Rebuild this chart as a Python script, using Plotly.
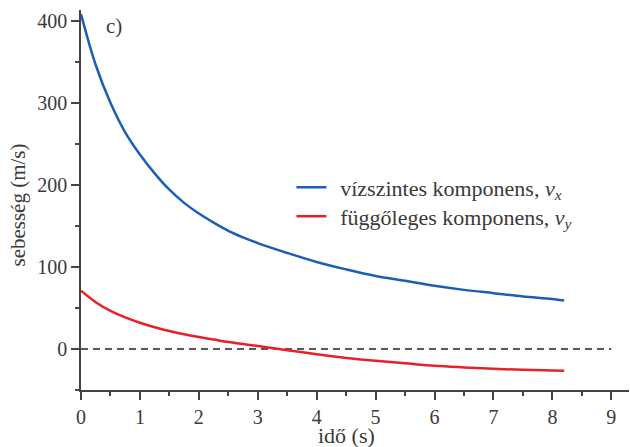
import plotly.graph_objects as go

# Time samples (s)
t = [0, 0.25, 0.5, 0.75, 1.0, 1.25, 1.5, 1.75, 2.0, 2.25, 2.5, 2.75, 3.0,
     3.5, 4.0, 4.5, 5.0, 5.5, 6.0, 6.5, 7.0, 7.5, 8.0, 8.2]

# Horizontal velocity component v_x (m/s)
vx = [408, 346, 300, 264, 237, 214, 194, 178, 165, 154, 144, 136, 129,
      117, 106, 97, 89, 83, 77, 72, 68, 64, 61, 59]

# Vertical velocity component v_y (m/s)
vy = [71, 57, 46.5, 38.5, 32, 26.5, 22, 18, 14.5, 11.5, 8.5, 6, 3.5,
      -1.5, -6.5, -11, -14.5, -17.5, -20.5, -22.5, -24.2, -25.4, -26.2, -26.5]

x_ticks = [0, 1, 2, 3, 4, 5, 6, 7, 8, 9]
y_ticks = [0, 100, 200, 300, 400]

FONT = "Liberation Serif"
TXT = "#3a3a3a"
AX = "#444444"
FS = 20
GAP = "&#8201;&#8201;"  # thin spaces between legend line and label

fig = go.Figure()

fig.add_trace(go.Scatter(
    x=t, y=vx, mode="lines",
    line=dict(color="#1b5fb5", width=2.5, shape="spline", smoothing=1),
    name=GAP + "vízszintes komponens, <i>v<sub>x</sub></i>", legend="legend",
))
fig.add_trace(go.Scatter(
    x=t, y=vy, mode="lines",
    line=dict(color="#e8202a", width=2.5, shape="spline", smoothing=1),
    name=GAP + "függőleges komponens, <i>v<sub>y</sub></i>", legend="legend2",
))

# zero reference line
fig.add_shape(type="line", x0=0, x1=9, y0=0, y1=0, xref="x", yref="y",
              line=dict(color="#222222", width=1.5, dash="7px,5px"), layer="below")

legend_style = dict(xanchor="left", yanchor="middle", bgcolor="rgba(0,0,0,0)",
                    itemwidth=30, font=dict(family=FONT, size=22, color=TXT))

fig.update_layout(
    width=630, height=447,
    margin=dict(l=81, r=1, t=10, b=57),
    paper_bgcolor="white", plot_bgcolor="white",
    font=dict(family=FONT, size=FS, color=TXT),
    showlegend=True,
    legend=dict(x=0.384, y=0.533, **legend_style),
    legend2=dict(x=0.384, y=0.457, **legend_style),
    xaxis=dict(range=[0, 9.3], tickvals=x_ticks, showgrid=False, zeroline=False,
               showline=True, linecolor=AX, linewidth=1.5,
               ticks="outside", ticklen=8, tickwidth=1.5, tickcolor=AX,
               minor=dict(dtick=0.5, tick0=0, ticks="outside", ticklen=4,
                          tickwidth=1.5, tickcolor=AX, showgrid=False),
               tickfont=dict(family=FONT, size=FS, color=TXT)),
    yaxis=dict(range=[-50, 413], tickvals=y_ticks, showgrid=False, zeroline=False,
               showline=True, linecolor=AX, linewidth=1.5,
               ticks="outside", ticklen=8, tickwidth=1.5, tickcolor=AX,
               minor=dict(dtick=50, tick0=0, ticks="outside", ticklen=4,
                          tickwidth=1.5, tickcolor=AX, showgrid=False),
               tickfont=dict(family=FONT, size=FS, color=TXT)),
)

fig.add_annotation(text="c)", x=0.56, y=393, xref="x", yref="y", showarrow=False,
                   xanchor="center", yanchor="middle",
                   font=dict(family=FONT, size=21, color=TXT))
fig.add_annotation(text="idő (s)", x=0.4845, y=-0.12, xref="paper", yref="paper",
                   xanchor="center", yanchor="middle", showarrow=False,
                   font=dict(family=FONT, size=22, color=TXT))
fig.add_annotation(text="sebesség (m/s)", x=-0.115, y=0.488, xref="paper", yref="paper",
                   xanchor="center", yanchor="middle", textangle=-90, showarrow=False,
                   font=dict(family=FONT, size=21, color=TXT))

fig.write_html("out.html")
